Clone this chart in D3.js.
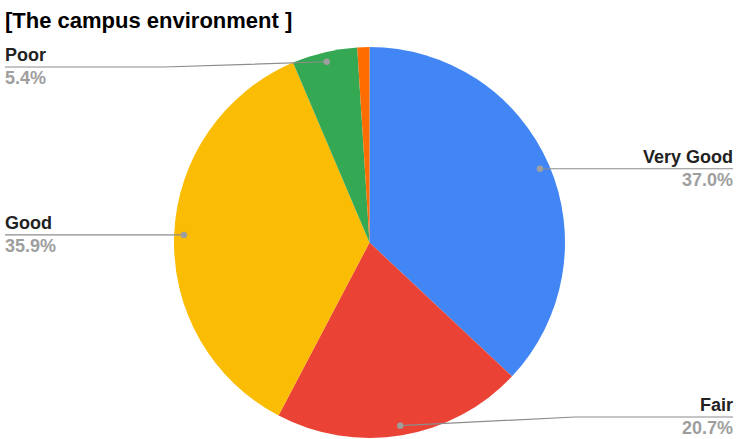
<!DOCTYPE html>
<html><head><meta charset="utf-8">
<script src="https://cdn.jsdelivr.net/npm/d3@7"></script>
<style>body{margin:0;background:#fff}svg{display:block;font-family:"Liberation Sans",Arial,sans-serif}</style>
</head><body><svg id="c" width="736" height="439"></svg>
<script>
const title = "[The campus environment ]";
const categories = ["Very Good", "Fair", "Good", "Poor", "Very Poor"];
const values = [37.0, 20.7, 35.9, 5.4, 1.0];
const colors = ["#4285f4", "#ea4335", "#fbbc04", "#34a853", "#ff6d01"];
const showLabel = [true, true, true, true, false];

const W = 736, H = 439;
const cx = 369.5, cy = 242.5, R = 195.5;
const svg = d3.select("#c");
svg.append("rect").attr("width", W).attr("height", H).attr("fill", "#fff");
svg.append("text").attr("x", 5).attr("y", 28).attr("font-size", 22).attr("font-weight", "bold")
  .attr("fill", "#000").text(title);

const data = categories.map((c, i) => ({name: c, value: values[i], color: colors[i], show: showLabel[i]}));
const pie = d3.pie().sort(null).value(d => d.value);
const arcs = pie(data);
const arc = d3.arc().innerRadius(0).outerRadius(R);
const g = svg.append("g").attr("transform", `translate(${cx},${cy})`);
g.selectAll("path").data(arcs).join("path").attr("d", arc).attr("fill", d => d.data.color);

const dotArc = d3.arc().innerRadius(R * 0.95).outerRadius(R * 0.95);
const fmt = d3.format(".1f");
arcs.filter(a => a.data.show).forEach(a => {
  const [dx, dy] = dotArc.centroid(a);
  const px = cx + dx, py = cy + dy;
  const mid = (a.startAngle + a.endAngle) / 2;
  const right = mid < Math.PI;
  const ly = Math.max(67, Math.min(417, py));
  const endX = right ? 733 : 5;
  const elbowX = right ? cx + R + 10 : cx - R - 10;
  const pts = Math.abs(ly - py) < 1 ? [[px, py], [endX, py]] : [[px, py], [elbowX, ly], [endX, ly]];
  const yy = Math.abs(ly - py) < 1 ? py : ly;
  svg.append("path").attr("d", d3.line()(pts)).attr("fill", "none").attr("stroke", "#8c8c8c").attr("stroke-width", 1.2);
  svg.append("circle").attr("cx", px).attr("cy", py).attr("r", 3.2).attr("fill", "#9e9e9e");
  const anchor = right ? "end" : "start";
  svg.append("text").attr("x", endX).attr("y", yy - 6).attr("text-anchor", anchor)
    .attr("font-size", 18).attr("font-weight", "bold").attr("fill", "#222").text(a.data.name);
  svg.append("text").attr("x", endX).attr("y", yy + 17).attr("text-anchor", anchor)
    .attr("font-size", 18).attr("font-weight", "bold").attr("fill", "#9e9e9e").text(fmt(a.data.value) + "%");
});
</script></body></html>
